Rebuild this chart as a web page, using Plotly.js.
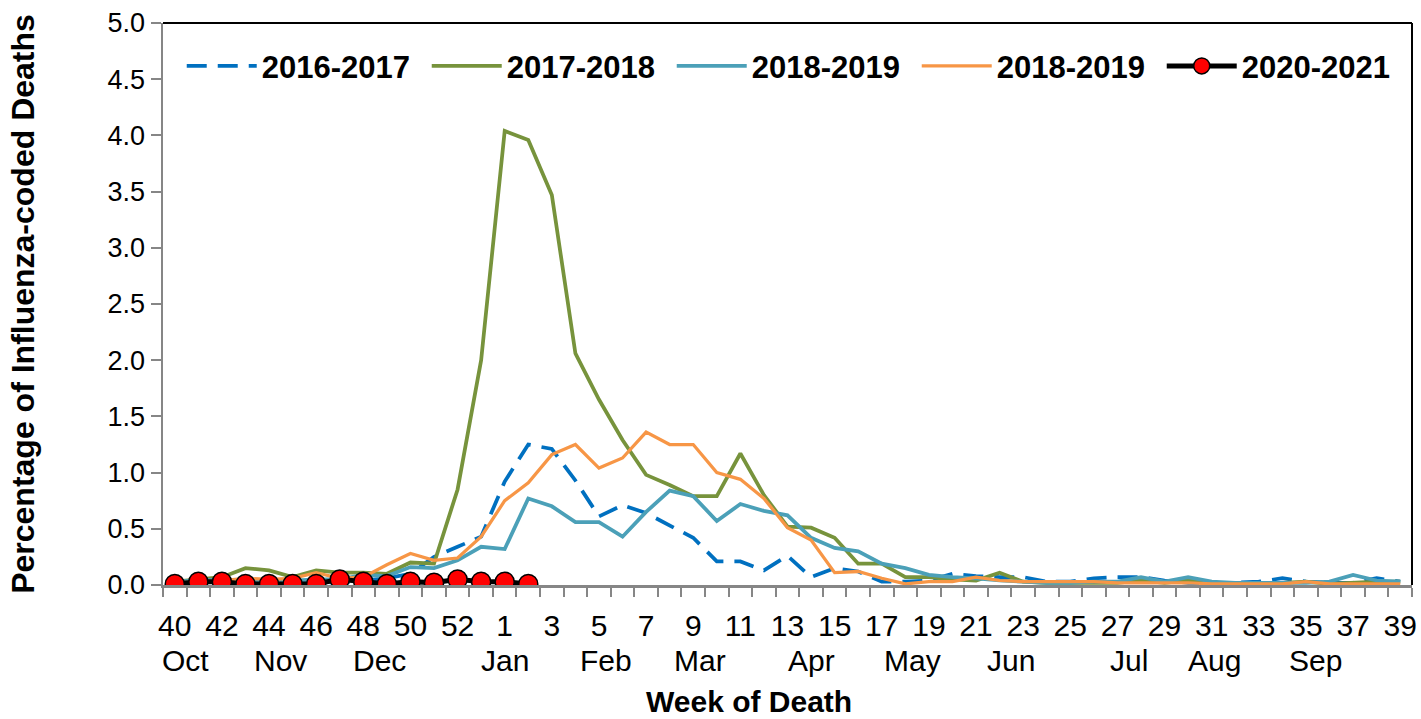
<!DOCTYPE html>
<html>
<head>
<meta charset="utf-8">
<script src="https://cdn.plot.ly/plotly-3.0.1.min.js"></script>
<style>html,body{margin:0;padding:0;background:#fff;}#chart{width:1421px;height:719px;}</style>
</head>
<body>
<div id="chart"></div>
<script>
// Week categories (season runs week 40 through week 39, with week 53)
var weeks = ["40","41","42","43","44","45","46","47","48","49","50","51","52","53",
  "1","2","3","4","5","6","7","8","9","10","11","12","13","14","15","16","17","18","19",
  "20","21","22","23","24","25","26","27","28","29","30","31","32","33","34","35","36","37","38","39"];

var months = ["Oct","Nov","Dec","Jan","Feb","Mar","Apr","May","Jun","Jul","Aug","Sep"];
var monthPos = [0.45, 4.5, 8.7, 14.0, 18.3, 22.3, 27.0, 31.3, 35.5, 40.5, 44.1, 48.4];

var s2016 = [0.03,0.04,0.03,0.03,0.03,0.02,0.03,0.02,0.04,0.06,0.10,0.25,0.34,0.43,
  0.92,1.25,1.21,0.93,0.61,0.71,0.64,0.53,0.42,0.21,0.21,0.13,0.26,0.07,0.15,0.12,0.03,0.03,0.04,
  0.10,0.08,0.07,0.07,0.03,0.03,0.06,0.07,0.07,0.04,0.02,0.02,0.02,0.03,0.06,0.03,0.02,0.02,0.06,0.03];

var s2017 = [0.03,0.05,0.07,0.15,0.13,0.07,0.13,0.11,0.11,0.10,0.20,0.19,0.85,2.00,
  4.04,3.96,3.47,2.06,1.65,1.29,0.98,0.89,0.79,0.79,1.17,0.80,0.52,0.51,0.42,0.19,0.19,0.07,0.07,
  0.05,0.04,0.11,0.03,0.02,0.02,0.02,0.02,0.04,0.02,0.04,0.02,0.01,0.01,0.02,0.03,0.01,0.02,0.03,0.03];

var s2018 = [0.03,0.04,0.05,0.03,0.03,0.04,0.05,0.05,0.09,0.08,0.16,0.15,0.22,0.34,
  0.32,0.77,0.70,0.56,0.56,0.43,0.65,0.84,0.79,0.57,0.72,0.66,0.62,0.42,0.33,0.30,0.19,0.15,0.09,
  0.07,0.06,0.04,0.03,0.02,0.02,0.03,0.03,0.07,0.03,0.07,0.03,0.02,0.02,0.02,0.02,0.03,0.09,0.04,0.03];

var s2019 = [0.02,0.03,0.04,0.06,0.05,0.06,0.11,0.06,0.07,0.18,0.28,0.22,0.24,0.43,
  0.75,0.91,1.16,1.25,1.04,1.13,1.36,1.25,1.25,1.00,0.94,0.77,0.51,0.40,0.11,0.12,0.06,0.01,0.03,
  0.03,0.07,0.04,0.03,0.03,0.03,0.03,0.02,0.02,0.02,0.02,0.01,0.01,0.01,0.01,0.03,0.01,0.01,0.01,0.01];

var s2020 = [0.01,0.03,0.03,0.01,0.01,0.01,0.01,0.05,0.03,0.01,0.03,0.02,0.05,0.03,0.03,0.01];

var seriesNames = ["2016-2017","2017-2018","2018-2019","2018-2019","2020-2021"];

var tickText = weeks.map(function(w, i){ return (i % 2 === 0) ? w : ""; });

var FONT = "Arial, Liberation Sans, sans-serif";

var traces = [
  {x: weeks, y: s2016, name: seriesNames[0], type: "scatter", mode: "lines",
   line: {color: "#0070C0", width: 3.75, dash: "20px,11px"}},
  {x: weeks, y: s2017, name: seriesNames[1], type: "scatter", mode: "lines",
   line: {color: "#77933C", width: 3.75}},
  {x: weeks, y: s2018, name: seriesNames[2], type: "scatter", mode: "lines",
   line: {color: "#4BA0B8", width: 3.75}},
  {x: weeks, y: s2019, name: seriesNames[3], type: "scatter", mode: "lines",
   line: {color: "#F79646", width: 3.25}},
  {x: weeks.slice(0, s2020.length), y: s2020, name: seriesNames[4], type: "scatter", mode: "lines+markers",
   line: {color: "#000000", width: 5},
   marker: {color: "#FF0000", size: 19, line: {color: "#000000", width: 1.5}}}
];

var annotations = months.map(function(m, i){
  return {x: monthPos[i], y: 0, xref: "x", yref: "paper", yshift: -75, text: m, showarrow: false,
    font: {family: FONT, size: 30, color: "#000"}, xanchor: "center", yanchor: "middle"};
});
annotations.push({x: 0.469, y: 0, xref: "paper", yref: "paper", yshift: -116, text: "<b>Week of Death</b>",
  showarrow: false, font: {family: FONT, size: 30, color: "#000"},
  xanchor: "center", yanchor: "middle"});

var layout = {
  width: 1421, height: 719,
  margin: {l: 163, r: 9, t: 23, b: 134, autoexpand: false},
  paper_bgcolor: "#fff", plot_bgcolor: "#fff",
  font: {family: FONT, color: "#000"},
  showlegend: true,
  legend: {orientation: "h", x: 0.015, y: 0.923, xanchor: "left", yanchor: "middle",
    font: {size: 31, family: FONT, color: "#000", weight: "bold"},
    itemwidth: 70, entrywidth: 160, entrywidthmode: "pixels", bgcolor: "rgba(0,0,0,0)"},
  xaxis: {type: "category", range: [-0.5, 52.5], tickmode: "array", tickvals: weeks, ticktext: tickText,
    tickangle: 0, tickson: "boundaries", ticks: "outside", ticklen: 9, tickwidth: 2, tickcolor: "#868686",
    showline: true, linecolor: "#868686", linewidth: 2.5, showgrid: false, zeroline: false,
    tickfont: {size: 30, family: FONT, color: "#000"}, ticklabelstandoff: 12,
    fixedrange: true},
  yaxis: {range: [0, 5], dtick: 0.5, tick0: 0, tickformat: ".1f", ticks: "outside", ticklen: 10, tickwidth: 2,
    tickcolor: "#868686", showline: true, linecolor: "#868686", linewidth: 2.5, showgrid: false, zeroline: false,
    tickfont: {size: 27, family: FONT, color: "#000"},
    title: {text: "<b>Percentage of Influenza-coded Deaths</b>", font: {size: 32, family: FONT}, standoff: 64},
    automargin: false, fixedrange: true},
  shapes: [
    {type: "line", xref: "paper", yref: "paper", x0: 0, x1: 1, y0: 1, y1: 1, line: {color: "#000", width: 2}},
    {type: "line", xref: "paper", yref: "paper", x0: 1, x1: 1, y0: 0, y1: 1, line: {color: "#000", width: 2}}
  ],
  annotations: annotations
};

Plotly.newPlot("chart", traces, layout, {staticPlot: true, displayModeBar: false});
</script>
</body>
</html>
